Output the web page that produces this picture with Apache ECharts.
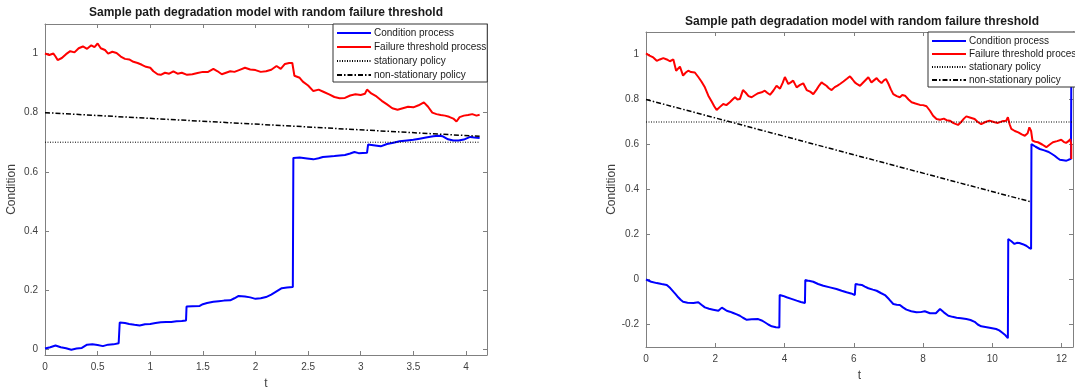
<!DOCTYPE html>
<html>
<head>
<meta charset="utf-8">
<script src="https://cdn.jsdelivr.net/npm/echarts@6/dist/echarts.min.js"></script>
<style>html,body{margin:0;padding:0;background:#fff;}#c{width:1075px;height:387px;}</style>
</head>
<body>
<div id="c"></div>
<script>
// ---------- data ----------
const titleText = 'Sample path degradation model with random failure threshold';
const seriesNames = ['Condition process', 'Failure threshold process', 'stationary policy', 'non-stationary policy'];

const leftXTicks = [0, 0.5, 1, 1.5, 2, 2.5, 3, 3.5, 4];
const leftYTicks = [0, 0.2, 0.4, 0.6, 0.8, 1];
const rightXTicks = [0, 2, 4, 6, 8, 10, 12];
const rightYTicks = [-0.2, 0, 0.2, 0.4, 0.6, 0.8, 1];

const leftCondition = [[0,0.002],[0.05,0.006],[0.1,0.012],[0.15,0.006],[0.2,0.003],[0.25,-0.002],[0.3,0.002],[0.35,0.004],[0.4,0.015],[0.45,0.016],[0.5,0.014],[0.55,0.01],[0.6,0.015],[0.65,0.016],[0.7,0.02],[0.71,0.09],[0.76,0.088],[0.8,0.085],[0.85,0.082],[0.9,0.08],[0.95,0.084],[1.0,0.085],[1.05,0.088],[1.1,0.091],[1.15,0.092],[1.2,0.092],[1.25,0.094],[1.3,0.095],[1.34,0.097],[1.345,0.144],[1.4,0.145],[1.47,0.146],[1.5,0.152],[1.54,0.156],[1.6,0.16],[1.65,0.162],[1.7,0.164],[1.76,0.165],[1.8,0.172],[1.84,0.18],[1.9,0.178],[1.95,0.175],[2.0,0.17],[2.05,0.172],[2.1,0.176],[2.15,0.184],[2.2,0.195],[2.25,0.206],[2.3,0.208],[2.355,0.21],[2.36,0.647],[2.42,0.648],[2.49,0.645],[2.55,0.642],[2.6,0.646],[2.64,0.65],[2.7,0.652],[2.75,0.653],[2.8,0.655],[2.85,0.657],[2.9,0.662],[2.94,0.667],[2.98,0.663],[3.06,0.664],[3.07,0.692],[3.12,0.69],[3.19,0.686],[3.25,0.694],[3.31,0.698],[3.37,0.703],[3.44,0.706],[3.5,0.708],[3.56,0.712],[3.62,0.716],[3.69,0.72],[3.74,0.722],[3.78,0.72],[3.83,0.71],[3.88,0.706],[3.93,0.706],[3.98,0.709],[4.04,0.718],[4.08,0.716],[4.13,0.714]];

const leftThreshold = [[0,1.0],[0.04,0.995],[0.08,1.0],[0.1,0.99],[0.12,0.978],[0.16,0.985],[0.2,0.998],[0.24,1.008],[0.28,1.004],[0.32,1.018],[0.36,1.024],[0.4,1.016],[0.44,1.028],[0.47,1.022],[0.5,1.034],[0.53,1.018],[0.57,1.012],[0.6,1.0],[0.64,1.006],[0.68,1.002],[0.72,0.99],[0.76,0.982],[0.8,0.98],[0.84,0.972],[0.88,0.968],[0.92,0.962],[0.96,0.955],[1.0,0.952],[1.03,0.94],[1.07,0.93],[1.1,0.928],[1.14,0.935],[1.18,0.932],[1.22,0.94],[1.26,0.932],[1.3,0.935],[1.35,0.928],[1.4,0.93],[1.45,0.934],[1.5,0.938],[1.55,0.938],[1.6,0.948],[1.64,0.94],[1.68,0.93],[1.72,0.935],[1.76,0.94],[1.8,0.938],[1.85,0.945],[1.9,0.952],[1.95,0.946],[2.0,0.944],[2.05,0.938],[2.1,0.94],[2.15,0.945],[2.2,0.958],[2.24,0.948],[2.28,0.965],[2.32,0.968],[2.35,0.968],[2.37,0.925],[2.42,0.918],[2.45,0.905],[2.5,0.892],[2.55,0.873],[2.6,0.878],[2.65,0.87],[2.7,0.862],[2.75,0.853],[2.8,0.849],[2.85,0.85],[2.9,0.858],[2.95,0.862],[3.0,0.86],[3.04,0.864],[3.06,0.878],[3.1,0.865],[3.15,0.855],[3.2,0.84],[3.25,0.828],[3.3,0.815],[3.35,0.81],[3.4,0.815],[3.45,0.82],[3.5,0.818],[3.55,0.825],[3.6,0.835],[3.64,0.82],[3.68,0.8],[3.72,0.795],[3.76,0.792],[3.8,0.79],[3.84,0.786],[3.88,0.78],[3.91,0.77],[3.94,0.785],[3.98,0.79],[4.02,0.792],[4.06,0.795],[4.1,0.79],[4.13,0.793]];

const leftStationary = [[0,0.7],[4.13,0.7]];
const leftNonStationary = [[0,0.8],[4.13,0.72]];

const rightCondition = [[0,0],[0.15,-0.01],[0.31,-0.016],[0.45,-0.02],[0.6,-0.024],[0.7,-0.038],[0.79,-0.054],[0.86,-0.066],[0.93,-0.079],[1.0,-0.09],[1.07,-0.099],[1.2,-0.103],[1.37,-0.104],[1.51,-0.101],[1.6,-0.112],[1.7,-0.124],[1.82,-0.13],[1.94,-0.134],[2.09,-0.139],[2.19,-0.125],[2.26,-0.132],[2.33,-0.139],[2.42,-0.143],[2.52,-0.149],[2.62,-0.155],[2.71,-0.161],[2.8,-0.17],[2.91,-0.179],[3.05,-0.177],[3.24,-0.176],[3.34,-0.182],[3.43,-0.19],[3.53,-0.2],[3.63,-0.208],[3.75,-0.212],[3.85,-0.213],[3.86,-0.069],[3.96,-0.073],[4.06,-0.079],[4.2,-0.086],[4.35,-0.094],[4.47,-0.1],[4.59,-0.104],[4.6,-0.002],[4.7,-0.006],[4.83,-0.01],[4.97,-0.02],[5.12,-0.028],[5.31,-0.035],[5.5,-0.042],[5.65,-0.05],[5.79,-0.057],[5.92,-0.062],[6.03,-0.069],[6.05,-0.02],[6.13,-0.022],[6.23,-0.024],[6.32,-0.032],[6.42,-0.039],[6.55,-0.045],[6.66,-0.05],[6.78,-0.06],[6.9,-0.069],[7.02,-0.088],[7.14,-0.109],[7.24,-0.112],[7.33,-0.113],[7.42,-0.124],[7.52,-0.134],[7.66,-0.141],[7.81,-0.146],[7.93,-0.145],[8.05,-0.141],[8.2,-0.15],[8.37,-0.15],[8.49,-0.131],[8.6,-0.146],[8.73,-0.161],[8.85,-0.166],[8.97,-0.17],[9.1,-0.172],[9.25,-0.176],[9.37,-0.18],[9.49,-0.188],[9.58,-0.2],[9.68,-0.208],[9.8,-0.211],[9.92,-0.214],[10.11,-0.22],[10.2,-0.226],[10.3,-0.238],[10.38,-0.248],[10.45,-0.261],[10.46,0.18],[10.55,0.17],[10.64,0.158],[10.71,0.163],[10.78,0.162],[10.88,0.157],[10.98,0.15],[11.05,0.142],[11.12,0.136],[11.13,0.602],[11.25,0.59],[11.37,0.58],[11.5,0.574],[11.61,0.568],[11.7,0.56],[11.8,0.55],[11.88,0.54],[11.95,0.532],[12.05,0.53],[12.14,0.528],[12.2,0.532],[12.27,0.536],[12.28,0.86]];

const rightThreshold = [[0,1.005],[0.1,0.995],[0.21,0.987],[0.31,0.972],[0.4,0.978],[0.5,0.984],[0.6,0.978],[0.69,0.97],[0.79,0.978],[0.87,0.928],[0.92,0.935],[0.98,0.946],[1.07,0.906],[1.15,0.92],[1.22,0.928],[1.3,0.922],[1.41,0.92],[1.51,0.9],[1.6,0.88],[1.7,0.854],[1.8,0.817],[1.9,0.79],[1.97,0.77],[2.04,0.753],[2.12,0.765],[2.23,0.78],[2.32,0.775],[2.42,0.788],[2.5,0.8],[2.57,0.81],[2.64,0.8],[2.71,0.802],[2.8,0.842],[2.88,0.83],[2.96,0.815],[3.05,0.81],[3.15,0.82],[3.24,0.828],[3.34,0.832],[3.43,0.839],[3.5,0.83],[3.58,0.821],[3.68,0.84],[3.77,0.861],[3.87,0.848],[3.95,0.875],[4.01,0.9],[4.11,0.869],[4.18,0.876],[4.25,0.884],[4.35,0.854],[4.45,0.865],[4.54,0.872],[4.64,0.842],[4.74,0.835],[4.83,0.824],[4.93,0.845],[5.0,0.862],[5.07,0.876],[5.14,0.868],[5.21,0.861],[5.28,0.85],[5.36,0.842],[5.45,0.855],[5.53,0.862],[5.6,0.869],[5.7,0.88],[5.8,0.892],[5.89,0.903],[5.96,0.89],[6.03,0.876],[6.1,0.868],[6.18,0.861],[6.3,0.88],[6.42,0.899],[6.51,0.876],[6.58,0.885],[6.66,0.895],[6.73,0.882],[6.8,0.873],[6.87,0.885],[6.93,0.891],[7.0,0.87],[7.07,0.845],[7.14,0.824],[7.24,0.815],[7.33,0.81],[7.4,0.82],[7.48,0.817],[7.58,0.8],[7.67,0.788],[7.78,0.782],[7.91,0.776],[8.0,0.775],[8.1,0.77],[8.2,0.75],[8.29,0.728],[8.39,0.713],[8.49,0.71],[8.6,0.715],[8.68,0.708],[8.77,0.706],[8.88,0.695],[9.01,0.687],[9.1,0.7],[9.18,0.715],[9.25,0.725],[9.35,0.72],[9.49,0.713],[9.58,0.7],[9.68,0.691],[9.8,0.7],[9.92,0.706],[10.04,0.7],[10.16,0.696],[10.28,0.703],[10.4,0.706],[10.45,0.721],[10.5,0.69],[10.55,0.669],[10.65,0.66],[10.75,0.654],[10.85,0.645],[10.94,0.639],[11.02,0.65],[11.07,0.676],[11.12,0.66],[11.16,0.617],[11.24,0.612],[11.32,0.61],[11.44,0.6],[11.56,0.588],[11.66,0.6],[11.75,0.61],[11.87,0.615],[11.99,0.621],[12.06,0.612],[12.13,0.607],[12.2,0.615],[12.25,0.624],[12.28,0.6],[12.28,0.536]];

const rightStationary = [[0,0.7],[12.33,0.7]];
const rightNonStationary = [[0,0.8],[11.12,0.345]];

// ---------- chart ----------
const FONT = '"Liberation Sans", Arial, Helvetica, sans-serif';
const AXIS_COLOR = '#808080';
const LABEL_COLOR = '#404040';

const grids = [
  { left: 45, top: 24, width: 442, height: 331, outerBoundsMode: 'none', containLabel: false },
  { left: 646, top: 32, width: 427, height: 315, outerBoundsMode: 'none', containLabel: false }
];

function xAxes(gridIndex, min, max, ticks) {
  const common = {
    type: 'value', gridIndex, min, max,
    axisLine: { show: true, onZero: false, lineStyle: { color: AXIS_COLOR, width: 1 } },
    splitLine: { show: false }
  };
  return [
    Object.assign({}, common, {
      position: 'bottom',
      name: 't', nameLocation: 'middle', nameGap: 23,
      nameTextStyle: { fontFamily: FONT, fontSize: 12, color: LABEL_COLOR },
      axisTick: { show: true, inside: true, length: 4, customValues: ticks, lineStyle: { color: AXIS_COLOR } },
      axisLabel: { show: true, customValues: ticks, fontFamily: FONT, fontSize: 10, color: LABEL_COLOR, margin: 7 }
    }),
    Object.assign({}, common, {
      position: 'top',
      axisTick: { show: true, inside: true, length: 4, customValues: ticks, lineStyle: { color: AXIS_COLOR } },
      axisLabel: { show: false }
    })
  ];
}
function yAxes(gridIndex, min, max, ticks) {
  const common = {
    type: 'value', gridIndex, min, max,
    axisLine: { show: true, onZero: false, lineStyle: { color: AXIS_COLOR, width: 1 } },
    splitLine: { show: false }
  };
  return [
    Object.assign({}, common, {
      position: 'left',
      name: 'Condition', nameLocation: 'middle', nameGap: 27, nameRotate: 90,
      nameTextStyle: { fontFamily: FONT, fontSize: 12, color: LABEL_COLOR },
      axisTick: { show: true, inside: true, length: 4, customValues: ticks, lineStyle: { color: AXIS_COLOR } },
      axisLabel: { show: true, customValues: ticks, fontFamily: FONT, fontSize: 10, color: LABEL_COLOR, margin: 7 }
    }),
    Object.assign({}, common, {
      position: 'right',
      axisTick: { show: true, inside: true, length: 4, customValues: ticks, lineStyle: { color: AXIS_COLOR } },
      axisLabel: { show: false }
    })
  ];
}

function makeSeries(xi, yi, cond, thr, stat, nonstat) {
  const base = { type: 'line', xAxisIndex: xi, yAxisIndex: yi, symbol: 'none', animation: false, silent: true };
  return [
    Object.assign({}, base, { name: seriesNames[0], data: cond, lineStyle: { color: '#0000ff', width: 2 }, itemStyle: { color: '#0000ff' } }),
    Object.assign({}, base, { name: seriesNames[1], data: thr, lineStyle: { color: '#ff0000', width: 2 }, itemStyle: { color: '#ff0000' } }),
    Object.assign({}, base, { name: seriesNames[2], data: stat, lineStyle: { color: '#000000', width: 1, type: [1, 1.5] }, itemStyle: { color: '#000000' } }),
    Object.assign({}, base, { name: seriesNames[3], data: nonstat, lineStyle: { color: '#000000', width: 1.5, type: [5, 2, 1.5, 2] }, itemStyle: { color: '#000000' } })
  ];
}

function makeLegend(left, top, gap) {
  return {
    orient: 'vertical', left, top, data: seriesNames,
    itemWidth: 34, itemHeight: 10, itemGap: gap,
    padding: [4, 1, 2, 3],
    borderColor: '#333', borderWidth: 1, backgroundColor: '#ffffff', borderRadius: 0,
    selectedMode: false,
    itemStyle: { opacity: 0 },
    textStyle: { fontFamily: FONT, fontSize: 10, color: '#1a1a1a', padding: [0, 0, 0, -2] }
  };
}

const chart = echarts.init(document.getElementById('c'), null, { renderer: 'canvas' });
chart.setOption({
  animation: false,
  backgroundColor: '#ffffff',
  title: [
    { text: titleText, left: 266, top: 7, textAlign: 'center', padding: 0,
      textStyle: { fontFamily: FONT, fontSize: 12, fontWeight: 'bold', color: '#1a1a1a' } },
    { text: titleText, left: 862, top: 16, textAlign: 'center', padding: 0,
      textStyle: { fontFamily: FONT, fontSize: 12, fontWeight: 'bold', color: '#1a1a1a' } }
  ],
  legend: [makeLegend(333, 24, 4), makeLegend(928, 32, 3)],
  grid: grids,
  xAxis: [].concat(xAxes(0, 0, 4.2, leftXTicks), xAxes(1, 0, 12.33, rightXTicks)),
  yAxis: [].concat(yAxes(0, -0.02, 1.1, leftYTicks), yAxes(1, -0.3, 1.1, rightYTicks)),
  series: [].concat(
    makeSeries(0, 0, leftCondition, leftThreshold, leftStationary, leftNonStationary),
    makeSeries(2, 2, rightCondition, rightThreshold, rightStationary, rightNonStationary)
  )
});
</script>
</body>
</html>
